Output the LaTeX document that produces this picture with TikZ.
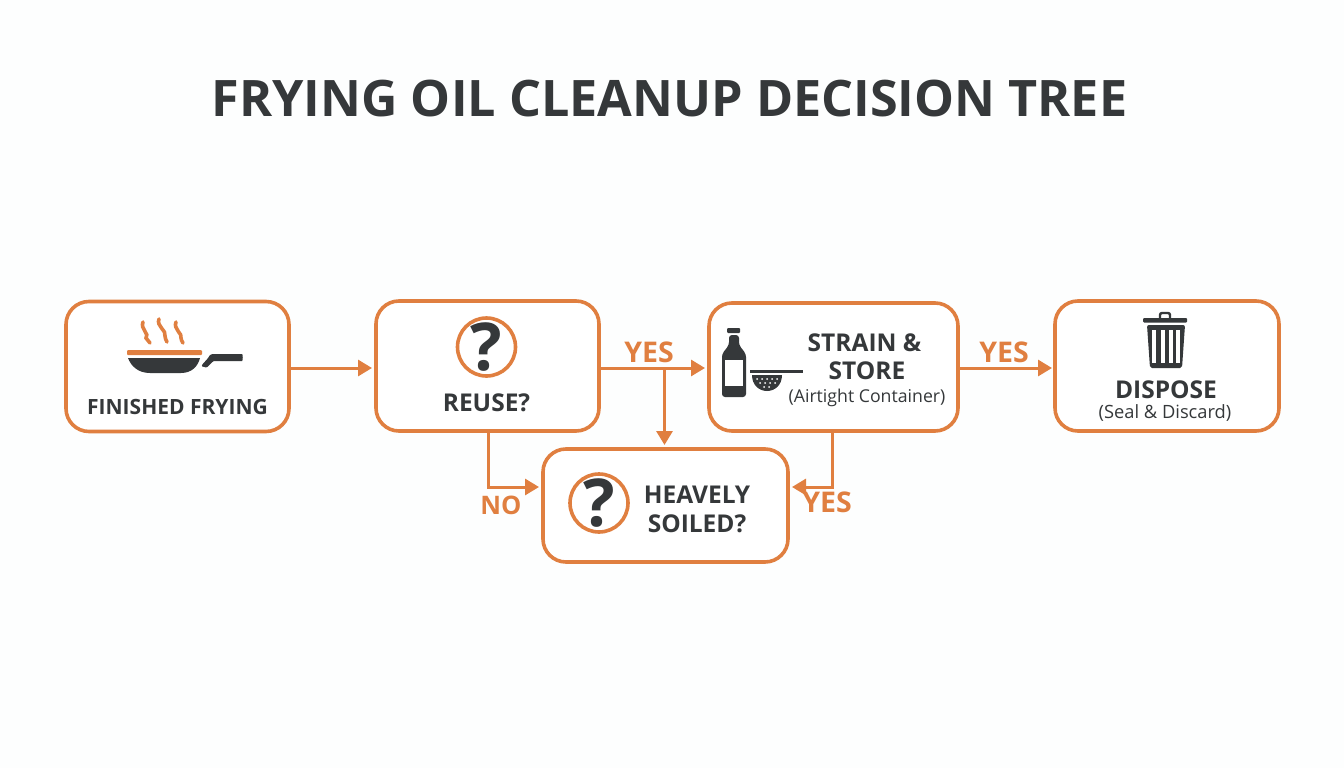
\documentclass[tikz,border=0pt]{standalone}
\usepackage{fontspec}
\setmainfont{Open Sans}
\usetikzlibrary{arrows.meta,calc}
\definecolor{oilorange}{HTML}{E07F40}
\definecolor{oildark}{HTML}{35383A}
\definecolor{oilbg}{HTML}{FDFEFE}
\tikzset{
  x=1pt,y=-1pt,
  box/.style={draw=oilorange,line width=3.6pt,rounded corners=23pt,fill=white,inner sep=0pt,outer sep=0pt},
  conn/.style={draw=oilorange,line width=3pt,-{Triangle[length=14pt,width=16pt]}},
  lab/.style={text=oildark,font=\fontsize{24.5}{28}\selectfont\bfseries,inner sep=0pt},
  labsmall/.style={text=oildark,font=\fontsize{21}{24}\selectfont\bfseries,inner sep=0pt},
  sublab/.style={text=oildark,font=\fontsize{18}{22}\selectfont,inner sep=0pt},
  yn/.style={text=oilorange,font=\fontsize{28.5}{32}\selectfont\bfseries,inner sep=0pt},
  qcircle/.style={circle,draw=oilorange,line width=3.6pt,fill=white,minimum size=58pt,inner sep=0pt,text=oildark,font=\fontsize{66}{66}\selectfont\bfseries},
  icon/.style={fill=oildark,draw=none},
  steam/.style={draw=oilorange,line width=3.6pt,line cap=round}
}
\begin{document}
\begin{tikzpicture}
\useasboundingbox[fill=oilbg] (0,0) rectangle (1344,768);
\node[text=oildark,font=\fontsize{50.3}{56}\selectfont\bfseries,inner sep=0pt] (title) at (669.5,99) {FRYING OIL CLEANUP DECISION TREE};
% boxes
\node[box,minimum width=223pt,minimum height=130pt] (finished) at (177.5,366.5) {};
\node[box,minimum width=223pt,minimum height=130pt] (reuse) at (487.5,366) {};
\node[box,minimum width=249pt,minimum height=128pt] (strain) at (833.5,367) {};
\node[box,minimum width=224pt,minimum height=130pt] (dispose) at (1167,366) {};
\node[box,minimum width=245pt,minimum height=113pt] (heavy) at (665.5,505.5) {};
% junctions
\coordinate (yesj) at (664.5,368);
\coordinate (noj) at (488,487);
\coordinate (soilj) at (832,487);
% connectors
\draw[conn] (finished.east |- yesj) -- ($(reuse.west |- yesj)+(-4,0)$);
\draw[conn] (reuse.east |- yesj) -- ($(strain.west |- yesj)+(-4,0)$);
\draw[conn] (yesj) -- ($(heavy.north -| yesj)+(0,-4)$);
\draw[conn] (strain.east |- yesj) -- ($(dispose.west |- yesj)+(-3,0)$);
\draw[conn] (reuse.south -| noj) -- (noj) -- ($(heavy.west |- noj)+(-4,0)$);
\draw[conn] (strain.south -| soilj) -- (soilj) -- ($(heavy.east |- soilj)+(4,0)$);
% labels
\node[labsmall] (lfinished) at (177.5,406.5) {FINISHED FRYING};
\node[lab] (lreuse) at (486.5,403) {REUSE?};
\node[lab] (lheavy) at (697,494.5) {HEAVELY};
\node[lab] (lsoiled) at (697,523.5) {SOILED?};
\node[lab] (lstrain) at (864.5,342.5) {STRAIN \&};
\node[lab] (lstore) at (867,370.5) {STORE};
\node[sublab,font=\fontsize{17.7}{22}\selectfont] (lair) at (867,398) {(Airtight Container)};
\node[lab] (ldispose) at (1166,389.5) {DISPOSE};
\node[sublab,font=\fontsize{18.3}{22}\selectfont] (lseal) at (1165,413) {(Seal \& Discard)};
\node[yn] (y1) at (649,352) {YES};
\node[yn] (y2) at (1004,352) {YES};
\node[yn] (y3) at (827,502.5) {YES};
\node[yn,font=\fontsize{25.5}{30}\selectfont\bfseries] (n1) at (501,505.5) {NO};
% question icons
\node[qcircle] (q1) at (486.5,347) {?};
\node[qcircle] (q2) at (599,503) {?};
% pan
\draw[steam] (143,322) .. controls (140,329) and (150,334) .. (146,338) .. controls (147,340) and (149,341) .. (150,343);
\draw[steam] (159,319) .. controls (156,326) and (167,331) .. (165,336) .. controls (165,338) and (166,340) .. (167,342);
\draw[steam] (176,322) .. controls (173,329) and (183,334) .. (181,338) .. controls (181,340) and (182,341) .. (183,343);
\fill[oilorange,rounded corners=1pt] (127,350) rectangle (202,355);
\fill[icon] (128,358) -- (200,358) .. controls (198,366) and (192,373) .. (181,373) -- (150,373) .. controls (138,373) and (131,366) .. (128,358) -- cycle;
\fill[icon,rounded corners=2pt] (201,366) -- (209,357) .. controls (210,355) and (212,354) .. (215,354) -- (240,354) .. controls (243,354) and (243,361) .. (240,361) -- (216,361) .. controls (212,361) and (208,368) .. (204,367) -- cycle;
% bottle
\fill[icon,rounded corners=1pt] (727,328) rectangle (740,333);
\fill[icon,rounded corners=3pt] (729,335) -- (739,335) -- (739,345) -- (746,354) -- (746,397) -- (722,397) -- (722,354) -- (729,345) -- cycle;
\fill[white] (725,360) rectangle (743,386);
% strainer
\draw[oildark,line width=3pt] (750,371) -- (803,371);
\fill[icon] (752,375) -- (782,375) .. controls (782,385) and (775,391) .. (767,391) .. controls (759,391) and (752,385) .. (752,375) -- cycle;
\foreach \dx/\dy in {757/379,762/379,767/379,772/379,777/379,760/383,765/383,770/383,775/383,764/387,769/387}
  \fill[white] (\dx,\dy) circle (1pt);
% trash can
\draw[oildark,line width=2.4pt,rounded corners=2pt] (1160,318) -- (1160,313) -- (1170,313) -- (1170,318);
\fill[icon,rounded corners=1pt] (1143,318) rectangle (1187,322.5);
\fill[icon,rounded corners=2pt] (1147,325) -- (1185,325) -- (1182,368) -- (1150,368) -- cycle;
\foreach \sx in {1154,1162.5,1170.5,1178}
  \fill[white] (\sx-2,329.5) rectangle (\sx+2,362.5);
\end{tikzpicture}
\end{document}
